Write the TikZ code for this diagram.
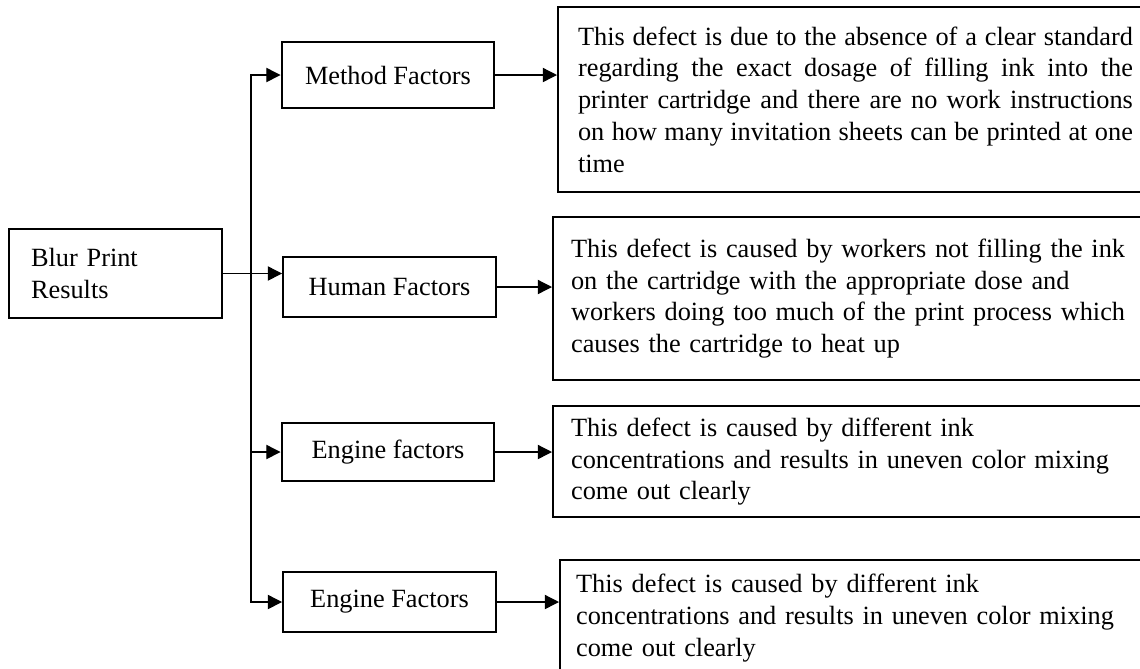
\documentclass[tikz,border=0pt]{standalone}
\usepackage{fontspec}
\setmainfont{Liberation Serif}
\usetikzlibrary{arrows.meta}

\begin{document}
\begin{tikzpicture}[x=0.456pt,y=-0.456pt,
		font=\fontsize{12}{14.5}\selectfont,
		box/.style={draw,line width=1pt,inner sep=0pt},
		factor/.style={box,minimum width=97pt},
		defect/.style={box,anchor=north west,align=left},
		link/.style={line width=0.6pt,-{Triangle[length=6.5pt,width=6.5pt]}}]
		\useasboundingbox (0,0) rectangle (1140,668);
		\clip (0,0) rectangle (1140,668);
		% cause and factors
		\node[box,minimum height=40.6pt,inner xsep=10pt,text width=77pt,align=left] (blur) at (115.5,273.5) {Blur Print\\Results};
		\node[factor,minimum height=30pt] (method) at (388,75) {Method Factors};
		\node[factor,minimum height=27.4pt] (human) at (389.5,287) {Human Factors};
		\node[factor,minimum height=26.4pt] (engineA) at (388,452) {Engine factors};
		\node[factor,minimum height=27.4pt] (engineB) at (389.5,602) {Engine Factors};
		% explanations
		\node[defect,minimum height=84.4pt,inner xsep=9.1pt,text width=253pt,align=justify] (defectA) at (557,6)
			{\hyphenpenalty=10000 This defect is due to the absence of a clear standard\linebreak regarding the exact dosage of filling ink into the\linebreak printer cartridge and there are no work instructions\linebreak on how many invitation sheets can be printed at one\linebreak time};
		\node[defect,minimum height=74.3pt,inner xsep=8.2pt,text width=260pt] (defectB) at (552,216)
			{This defect is caused by workers not filling the ink\\on the cartridge with the appropriate dose and\\workers doing too much of the print process which\\causes the cartridge to heat up};
		\node[defect,minimum height=50.6pt,inner xsep=8.2pt,text width=260pt] (defectC) at (552,405)
			{This defect is caused by different ink\\concentrations and results in uneven color mixing\\come out clearly};
		\node[defect,minimum height=53pt,inner xsep=7.3pt,text width=260pt] (defectD) at (559,559)
			{This defect is caused by different ink\\concentrations and results in uneven color mixing\\come out clearly};
		% connectors
		\coordinate (split) at (251,273.5);
		\draw[link] (blur.east) -- (blur.east -| human.west);
		\draw[link] (split) |- (method.west);
		\draw[link] (split) |- (engineA.west);
		\draw[link] (split) |- (engineB.west);
		\draw[link] (method.east) -- (method.east -| defectA.west);
		\draw[link] (human.east) -- (human.east -| defectB.west);
		\draw[link] (engineA.east) -- (engineA.east -| defectC.west);
		\draw[link] (engineB.east) -- (engineB.east -| defectD.west);
	\end{tikzpicture}
\end{document}
